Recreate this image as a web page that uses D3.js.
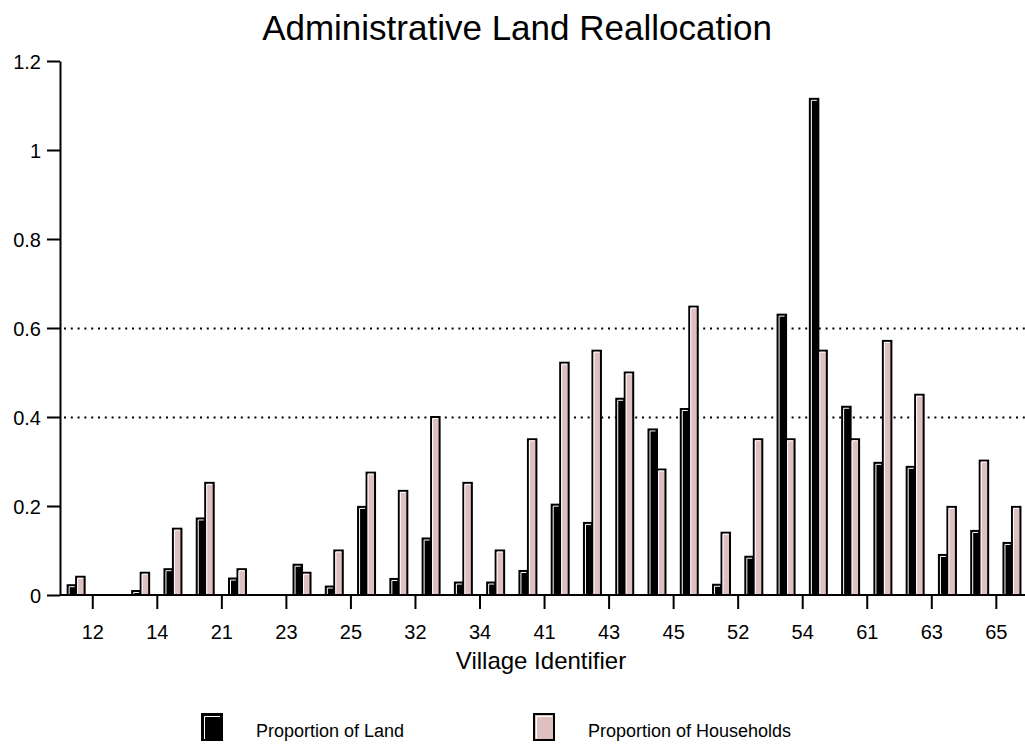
<!DOCTYPE html>
<html>
<head>
<meta charset="utf-8">
<script src="https://cdn.jsdelivr.net/npm/d3@7"></script>
<style>
  body { margin: 0; background: #fff; }
  svg { display: block; font-family: "Liberation Sans", Arial, sans-serif; }
  .axis text { font-size: 20px; fill: #000; }
  .axis line, .axis path { stroke: #000; stroke-width: 2; }
</style>
</head>
<body>
<div id="chart"></div>
<script>
// village ids, one group of bars each
var villages = ["11","12","13","14","15","21","22","23","24","25",
                "31","32","33","34","35","41","42","43","44","45",
                "51","52","53","54","55","61","62","63","64","65"];
var landShare = [0.022, 0, 0.009, 0.058, 0.172, 0.037, 0, 0.068, 0.019, 0.198,
                 0.036, 0.127, 0.028, 0.028, 0.054, 0.203, 0.162, 0.441, 0.372, 0.418,
                 0.023, 0.086, 0.63, 1.115, 0.423, 0.297, 0.288, 0.09, 0.144, 0.117];
var householdShare = [0.041, 0, 0.05, 0.149, 0.252, 0.058, 0, 0.05, 0.1, 0.275,
                      0.234, 0.4, 0.252, 0.1, 0.35, 0.522, 0.549, 0.5, 0.282, 0.648,
                      0.14, 0.35, 0.35, 0.549, 0.35, 0.571, 0.45, 0.198, 0.302, 0.198];
var xLabels = ["12","14","21","23","25","32","34","41","43","45","52","54","61","63","65"];
var yTicks = [0, 0.2, 0.4, 0.6, 0.8, 1, 1.2];
var gridValues = [0.4, 0.6];
var seriesNames = ["Proportion of Land", "Proportion of Households"];
var seriesColors = ["#000000", "#dfc0c0"];

var width = 1025, height = 747;
var margin = { top: 61, left: 60, bottom: 152 };

var data = villages.map(function(d, i) {
  return { id: d, values: [landShare[i], householdShare[i]] };
});

var svg = d3.select("#chart").append("svg")
  .attr("width", width)
  .attr("height", height);

var x = d3.scaleBand()
  .domain(villages)
  .range([margin.left, margin.left + 32.27 * villages.length])
  .padding(0);

var xSub = d3.scaleBand()
  .domain([0, 1])
  .range([0, x.bandwidth()])
  .paddingInner(0)
  .paddingOuter(0.9);

var y = d3.scaleLinear()
  .domain([0, 1.2])
  .range([height - margin.bottom, margin.top]);

// ticks sit on the left edge of each labelled band
var xTick = d3.scalePoint()
  .domain(villages)
  .range([x(villages[0]), x(villages[villages.length - 1])]);

// title
svg.append("text")
  .attr("x", 517)
  .attr("y", 40)
  .attr("text-anchor", "middle")
  .style("font-size", "35px")
  .text("Administrative Land Reallocation");

// dotted reference lines
svg.selectAll(".grid")
  .data(gridValues)
  .enter().append("line")
  .attr("class", "grid")
  .attr("x1", margin.left + 4)
  .attr("x2", width)
  .attr("y1", function(d) { return Math.round(y(d)) + 0.5; })
  .attr("y2", function(d) { return Math.round(y(d)) + 0.5; })
  .attr("stroke", "#000")
  .attr("stroke-width", 2)
  .attr("stroke-dasharray", "2,4.8");

// bars
var groups = svg.selectAll(".village")
  .data(data)
  .enter().append("g")
  .attr("class", "village")
  .attr("transform", function(d) { return "translate(" + x(d.id) + ",0)"; });

var bars = groups.selectAll(".bar")
  .data(function(d) { return d.values.map(function(v, k) { return { k: k, v: v }; }); })
  .enter().append("g")
  .attr("class", "bar")
  .filter(function(d) { return d.v > 0; });

bars.append("rect")
  .attr("x", function(d) { return xSub(d.k); })
  .attr("y", function(d) { return y(d.v); })
  .attr("width", xSub.bandwidth())
  .attr("height", function(d) { return y(0) - y(d.v); })
  .attr("fill", function(d) { return seriesColors[d.k]; })
  .attr("stroke", "#000")
  .attr("stroke-width", 2);

// white bevel on top and left edge
bars.append("path")
  .attr("d", function(d) {
    var x0 = xSub(d.k) + 1.5, x1 = xSub(d.k) + xSub.bandwidth() - 1.5;
    var top = y(d.v) + 1.5;
    return "M" + x0 + "," + y(0) + "V" + top + "H" + x1;
  })
  .attr("fill", "none")
  .attr("stroke", "#fff")
  .attr("stroke-width", 1);

// y axis
var yAxis = svg.append("g")
  .attr("class", "axis")
  .attr("transform", "translate(" + margin.left + ",0)")
  .call(d3.axisLeft(y)
    .tickValues(yTicks)
    .tickSize(13)
    .tickSizeOuter(0)
    .tickPadding(6)
    .tickFormat(d3.format("~g")));
yAxis.selectAll("text").attr("dy", "0.36em");

// x axis
var xAxis = svg.append("g")
  .attr("class", "axis")
  .attr("transform", "translate(0," + y(0) + ")")
  .call(d3.axisBottom(xTick)
    .tickValues(xLabels)
    .tickSize(14)
    .tickPadding(16));
xAxis.select(".domain").remove();
xAxis.append("line")
  .attr("x1", margin.left)
  .attr("x2", width)
  .attr("y1", 0)
  .attr("y2", 0)
  .attr("stroke", "#000")
  .attr("stroke-width", 3);

svg.append("text")
  .attr("x", 541)
  .attr("y", 669)
  .attr("text-anchor", "middle")
  .style("font-size", "24px")
  .text("Village Identifier");

// legend
var legend = svg.selectAll(".legend")
  .data(seriesNames)
  .enter().append("g")
  .attr("class", "legend")
  .attr("transform", function(d, i) { return "translate(" + (202 + i * 332) + ",714)"; });

legend.append("rect")
  .attr("width", 20)
  .attr("height", 26)
  .attr("fill", function(d, i) { return seriesColors[i]; })
  .attr("stroke", "#000")
  .attr("stroke-width", 2);

legend.append("path")
  .attr("d", "M2.5,25V2.5H18")
  .attr("fill", "none")
  .attr("stroke", "#fff")
  .attr("stroke-width", 1);

legend.append("text")
  .attr("x", 54)
  .attr("y", 23)
  .style("font-size", "18px")
  .text(function(d) { return d; });
</script>
</body>
</html>
